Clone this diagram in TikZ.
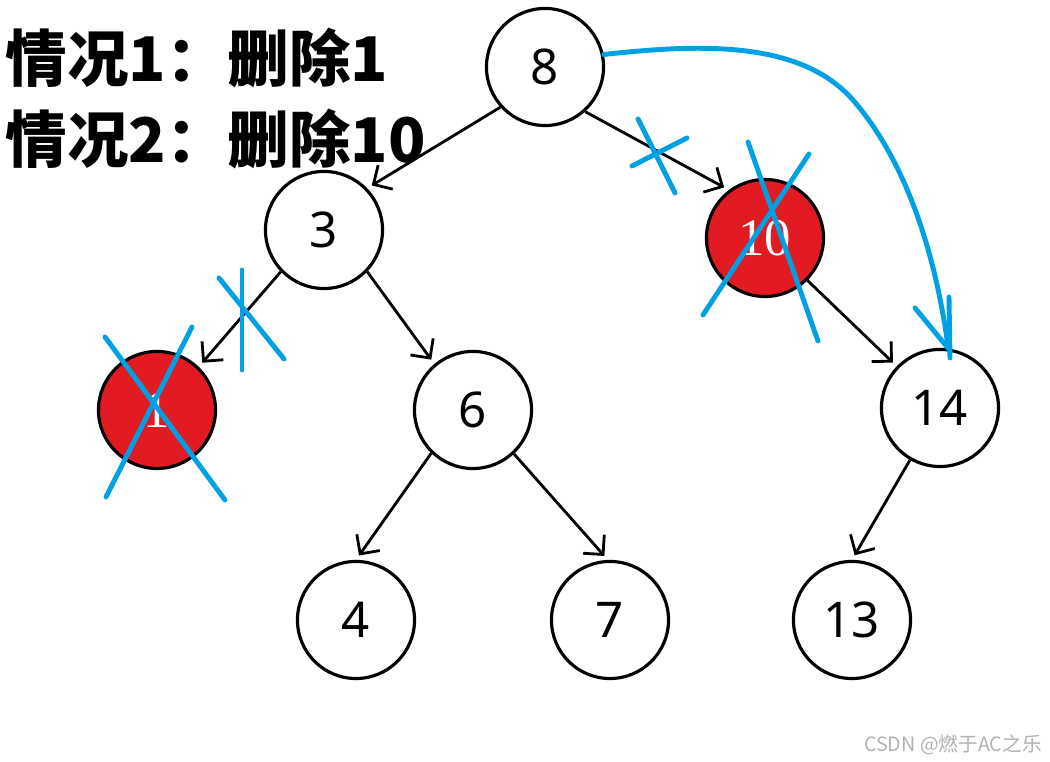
\documentclass[tikz,border=0pt]{standalone}
\usepackage{fontspec}
\setmainfont{Noto Sans}
\newfontfamily\cjk{Noto Sans CJK SC}
\newfontfamily\serifnum{Liberation Serif}
\usetikzlibrary{arrows.meta}
\definecolor{nodered}{RGB}{226,26,34}
\definecolor{penblue}{RGB}{0,160,228}
\begin{document}
\begin{tikzpicture}[x=0.01cm,y=-0.01cm,
  tn/.style={circle,draw=black,line width=0.9pt,minimum size=1.17cm,inner sep=0pt,fill=white,font=\fontsize{14}{14}\selectfont},
  rn/.style={tn,fill=nodered,text=white,font=\serifnum\fontsize{15}{15}\selectfont},
  edge/.style={-{Straight Barb[length=4pt,width=8pt,line width=0.8pt]},line width=0.8pt,shorten >=1.5pt,shorten <=0pt},
  pen/.style={draw=penblue,line width=1.4pt,line cap=round,line join=round},
  title/.style={anchor=base west,inner sep=0pt,font=\cjk\bfseries\fontsize{17.5}{17.5}\selectfont}]
\useasboundingbox (0,0) rectangle (1050,762);
% titles
\node[title] (t1) at (5,82) {情况1：删除1};
\node[title] (t2) at (5,163) {情况2：删除10};
% nodes
\node[tn] (n8) at (545,67) {8};
\node[tn] (n3) at (324,230) {3};
\node[rn] (n10) at (765,238) {10};
\node[rn] (n1) at (157,410) {1};
\node[tn] (n6) at (473,410) {6};
\node[tn] (n14) at (940,408) {14};
\node[tn] (n4) at (356,620) {4};
\node[tn] (n7) at (610,620) {7};
\node[tn] (n13) at (852,620) {13};
% edges
\draw[edge] (n8.222) -- (n3.44);
\draw[edge] (n8.312) -- (n10.127);
\draw[edge] (n3.224) -- (n1.46);
\draw[edge] (n3.316) -- (n6.130);
\draw[edge] (n10.315) -- (n14.136);
\draw[edge] (n6.226) -- (n4.90);
\draw[edge] (n6.313) -- (n7.92);
\draw[edge] (n14.240) -- (n13.90);
% blue marks
\draw[pen] (638,119) -- (675,193);
\draw[pen] (632,166) -- (687,138);
\draw[pen] (748,142) -- (818,341);
\draw[pen] (809,154) -- (703,315);
\draw[pen] (242,270) -- (242,370);
\draw[pen] (219,278) -- (284,359);
\draw[pen] (105,337) -- (225,500);
\draw[pen] (192,327) -- (106,497);
% blue curve 8 -> 14
\draw[pen] (n8.12) .. controls (700,44) and (800,40) .. (853,100)
  .. controls (905,160) and (935,250) .. (n14.82);
\draw[pen] (915,308) -- (n14.82);
\draw[pen] (949,297) -- (950,358);
% watermark
\node[font=\cjk\fontsize{5.6}{6}\selectfont,text=black!30,inner sep=0pt] (wm) at (953,745) {CSDN @燃于AC之乐};
\end{tikzpicture}
\end{document}
